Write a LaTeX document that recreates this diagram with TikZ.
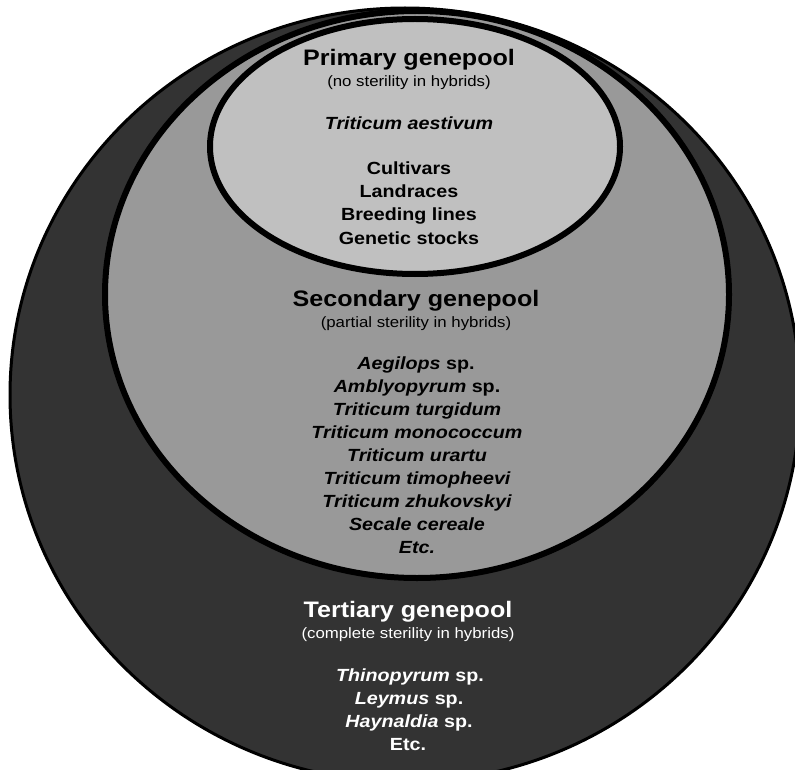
\documentclass[tikz,border=0pt]{standalone}
\usepackage{fontspec}
\setmainfont{Liberation Sans}[FakeStretch=1.12]
\definecolor{outerfill}{HTML}{333333}
\definecolor{midfill}{HTML}{999999}
\definecolor{innerfill}{HTML}{C0C0C0}
\begin{document}
\begin{tikzpicture}[x=1pt,y=-1pt,
  ttl/.style={anchor=base,inner sep=0pt,font=\fontsize{22.4}{26}\selectfont\bfseries},
  sub/.style={anchor=base,inner sep=0pt,font=\fontsize{15}{18}\selectfont},
  itm/.style={anchor=base,inner sep=0pt,font=\fontsize{17.6}{21}\selectfont\bfseries}]
\useasboundingbox (0,0) rectangle (795,770);
\clip (0,0) rectangle (795,770);
\fill[white] (0,0) rectangle (795,770);
% tertiary
\filldraw[fill=outerfill,draw=black,line width=3pt] (405,395) ellipse [x radius=395,y radius=387];
% secondary
\filldraw[fill=midfill,draw=black,line width=6pt] (417,294.5) ellipse [x radius=312,y radius=283.5];
% primary
\filldraw[fill=innerfill,draw=black,line width=6pt] (415,146.5) ellipse [x radius=205,y radius=127.5];
% primary texts
\node[ttl] (p1) at (409,66) {Primary genepool};
\node[sub] (p2) at (409,87) {(no sterility in hybrids)};
\node[itm] (p3) at (409,130) {\itshape Triticum aestivum};
\node[itm] (p4) at (409,175) {Cultivars};
\node[itm] (p5) at (409,198) {Landraces};
\node[itm] (p6) at (409,221) {Breeding lines};
\node[itm] (p7) at (409,244) {Genetic stocks};
% secondary texts
\node[ttl] (s1) at (416,306) {Secondary genepool};
\node[sub] (s2) at (416,327) {(partial sterility in hybrids)};
\node[itm] (s3) at (416,369) {\textit{Aegilops} sp.};
\node[itm] (s4) at (417,392) {\textit{Amblyopyrum} sp.};
\node[itm] (s5) at (417,415) {\itshape Triticum turgidum};
\node[itm] (s6) at (417,438) {\itshape Triticum monococcum};
\node[itm] (s7) at (417,461) {\itshape Triticum urartu};
\node[itm] (s8) at (417,484) {\itshape Triticum timopheevi};
\node[itm] (s9) at (417,507) {\itshape Triticum zhukovskyi};
\node[itm] (s10) at (417,530) {\itshape Secale cereale};
\node[itm] (s11) at (417,553) {\itshape Etc.};
% tertiary texts
\node[ttl,text=white] (t1) at (408,617) {Tertiary genepool};
\node[sub,text=white] (t2) at (408,638) {(complete sterility in hybrids)};
\node[itm,text=white] (t3) at (410,681) {\textit{Thinopyrum} sp.};
\node[itm,text=white] (t4) at (409,704) {\textit{Leymus} sp.};
\node[itm,text=white] (t5) at (409,727) {\textit{Haynaldia} sp.};
\node[itm,text=white] (t6) at (408,750) {Etc.};
\end{tikzpicture}
\end{document}
